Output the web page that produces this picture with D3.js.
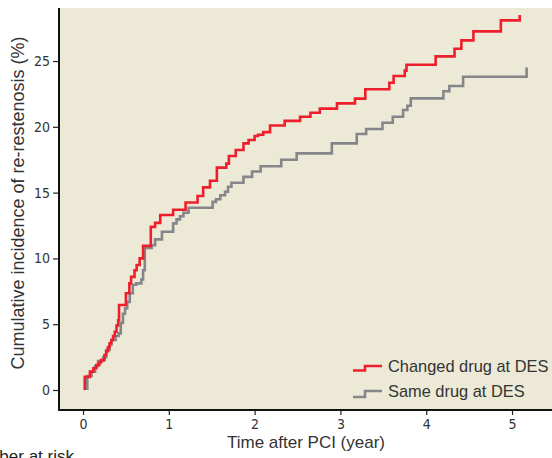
<!DOCTYPE html>
<html>
<head>
<meta charset="utf-8">
<script src="https://cdn.jsdelivr.net/npm/d3@7"></script>
<style>
  html, body { margin: 0; padding: 0; background: #fff; }
  svg { display: block; }
</style>
</head>
<body>
<svg id="chart" width="552" height="458"></svg>
<script>
// ---- Data (time in years, cumulative incidence in %) ----
const seriesNames = ["Changed drug at DES", "Same drug at DES"];

const changedDrug = [
  [0.02, 0], [0.02, 1.0], [0.08, 1.4], [0.12, 1.65], [0.155, 1.9], [0.19, 2.1],
  [0.21, 2.28], [0.25, 2.66], [0.27, 2.95], [0.29, 3.24], [0.31, 3.55], [0.33, 3.8],
  [0.35, 4.1], [0.37, 4.43], [0.39, 4.9], [0.41, 5.3], [0.42, 6.46], [0.50, 7.35],
  [0.54, 8.1], [0.56, 8.6], [0.60, 9.1], [0.625, 9.5], [0.66, 10.0], [0.70, 10.95],
  [0.79, 12.4], [0.84, 12.7], [0.90, 13.3], [1.05, 13.7], [1.195, 14.25], [1.335, 14.74],
  [1.40, 15.4], [1.48, 15.9], [1.56, 16.9], [1.67, 17.2], [1.70, 17.78], [1.78, 18.24],
  [1.87, 18.74], [1.93, 19.0], [2.00, 19.3], [2.04, 19.4], [2.10, 19.6], [2.18, 20.1],
  [2.35, 20.45], [2.53, 20.77], [2.65, 21.07], [2.76, 21.38], [2.96, 21.78], [3.17, 22.14],
  [3.29, 22.85], [3.57, 23.35], [3.62, 23.86], [3.75, 24.27], [3.77, 24.72], [4.11, 25.35],
  [4.33, 25.93], [4.41, 26.57], [4.55, 27.25], [4.87, 28.09], [5.09, 28.5]
];

const sameDrug = [
  [0.05, 0], [0.05, 1.06], [0.10, 1.4], [0.14, 1.8], [0.175, 2.2], [0.235, 2.5],
  [0.27, 3.04], [0.31, 3.42], [0.33, 3.8], [0.38, 4.1], [0.415, 4.3], [0.44, 5.1],
  [0.465, 5.8], [0.49, 6.2], [0.515, 6.7], [0.545, 7.35], [0.58, 8.0], [0.62, 8.1],
  [0.68, 8.4], [0.70, 9.1], [0.72, 10.8], [0.80, 11.0], [0.84, 11.45], [0.92, 12.03],
  [1.05, 12.66], [1.09, 12.97], [1.13, 13.2], [1.17, 13.47], [1.23, 13.85], [1.51, 14.3],
  [1.55, 14.5], [1.60, 14.8], [1.655, 15.07], [1.69, 15.45], [1.73, 15.75], [1.87, 16.2],
  [1.97, 16.6], [2.07, 17.0], [2.31, 17.5], [2.49, 17.98], [2.90, 18.74], [3.19, 19.45],
  [3.30, 19.83], [3.49, 20.31], [3.61, 20.77], [3.73, 21.28], [3.78, 21.6], [3.82, 22.16],
  [4.20, 22.7], [4.27, 23.1], [4.43, 23.8], [5.17, 24.5]
];

const xTicks = [0, 1, 2, 3, 4, 5];
const yTicks = [0, 5, 10, 15, 20, 25];
const xTitle = "Time after PCI (year)";
const yTitle = "Cumulative incidence of re-restenosis (%)";
const riskLabel = "Number at risk";

// ---- Layout ----
const svg = d3.select("#chart");
const pLeft = 59, pRight = 552, pTop = 8, pBottom = 410;
const x = d3.scaleLinear().domain([-0.28, 5.466]).range([pLeft, pRight]);
const y = d3.scaleLinear().domain([-1.52, 29.03]).range([pBottom, pTop]);

const tickFont = "'Liberation Sans Narrow', 'DejaVu Sans Condensed', 'Arial Narrow', sans-serif";
const textFont = "'Liberation Sans', Arial, sans-serif";

svg.append("rect")
  .attr("x", pLeft).attr("y", pTop)
  .attr("width", pRight - pLeft).attr("height", pBottom - pTop)
  .attr("fill", "#ece9d7");

// Axes
const yAxis = d3.axisLeft(y).tickValues(yTicks).tickSize(6).tickPadding(3).tickFormat(d3.format("d"));
const xAxis = d3.axisBottom(x).tickValues(xTicks).tickSize(5).tickPadding(4).tickFormat(d3.format("d"));

const gy = svg.append("g").attr("transform", `translate(${pLeft},0)`).call(yAxis);
const gx = svg.append("g").attr("transform", `translate(0,${pBottom})`).call(xAxis);

[gx, gy].forEach(g => {
  g.select(".domain").remove();
  g.selectAll(".tick line").attr("stroke", "#222").attr("stroke-width", 1.2);
  g.selectAll(".tick text")
    .attr("fill", "#333")
    .style("font-family", tickFont)
    .style("font-size", "14px");
});

// axis lines
svg.append("line").attr("x1", pLeft).attr("x2", pLeft).attr("y1", pTop).attr("y2", pBottom + 0.8)
  .attr("stroke", "#111").attr("stroke-width", 2);
svg.append("line").attr("x1", pLeft - 0.8).attr("x2", pRight).attr("y1", pBottom).attr("y2", pBottom)
  .attr("stroke", "#111").attr("stroke-width", 2);

// Curves
const line = d3.line().x(d => x(d[0])).y(d => y(d[1])).curve(d3.curveStepAfter);
const colors = ["#ee1f2b", "#85868a"];

svg.append("path").datum(sameDrug).attr("d", line)
  .attr("fill", "none").attr("stroke", colors[1]).attr("stroke-width", 2.6);
svg.append("path").datum(changedDrug).attr("d", line)
  .attr("fill", "none").attr("stroke", colors[0]).attr("stroke-width", 2.6);

// Legend
const legendY = [366, 391];
seriesNames.forEach((name, i) => {
  const ly = legendY[i];
  const step = i === 0 ? 4.5 : 6;
  svg.append("path")
    .attr("d", `M353,${ly + step} H365 V${ly} H382`)
    .attr("fill", "none").attr("stroke", colors[i]).attr("stroke-width", 2.6);
  svg.append("text")
    .attr("x", 388).attr("y", ly + 6)
    .style("font-family", textFont).style("font-size", "16.4px")
    .attr("fill", "#333")
    .text(name);
});

// Titles
svg.append("text")
  .attr("x", 306).attr("y", 448)
  .attr("text-anchor", "middle")
  .style("font-family", textFont).style("font-size", "17px")
  .attr("fill", "#333")
  .text(xTitle);

svg.append("text")
  .attr("transform", `translate(24,203) rotate(-90)`)
  .attr("text-anchor", "middle")
  .style("font-family", textFont).style("font-size", "18px")
  .attr("fill", "#333")
  .text(yTitle);

svg.append("text")
  .attr("x", 74).attr("y", 462)
  .attr("text-anchor", "end")
  .style("font-family", textFont).style("font-size", "17px")
  .attr("fill", "#222")
  .text(riskLabel);
</script>
</body>
</html>
